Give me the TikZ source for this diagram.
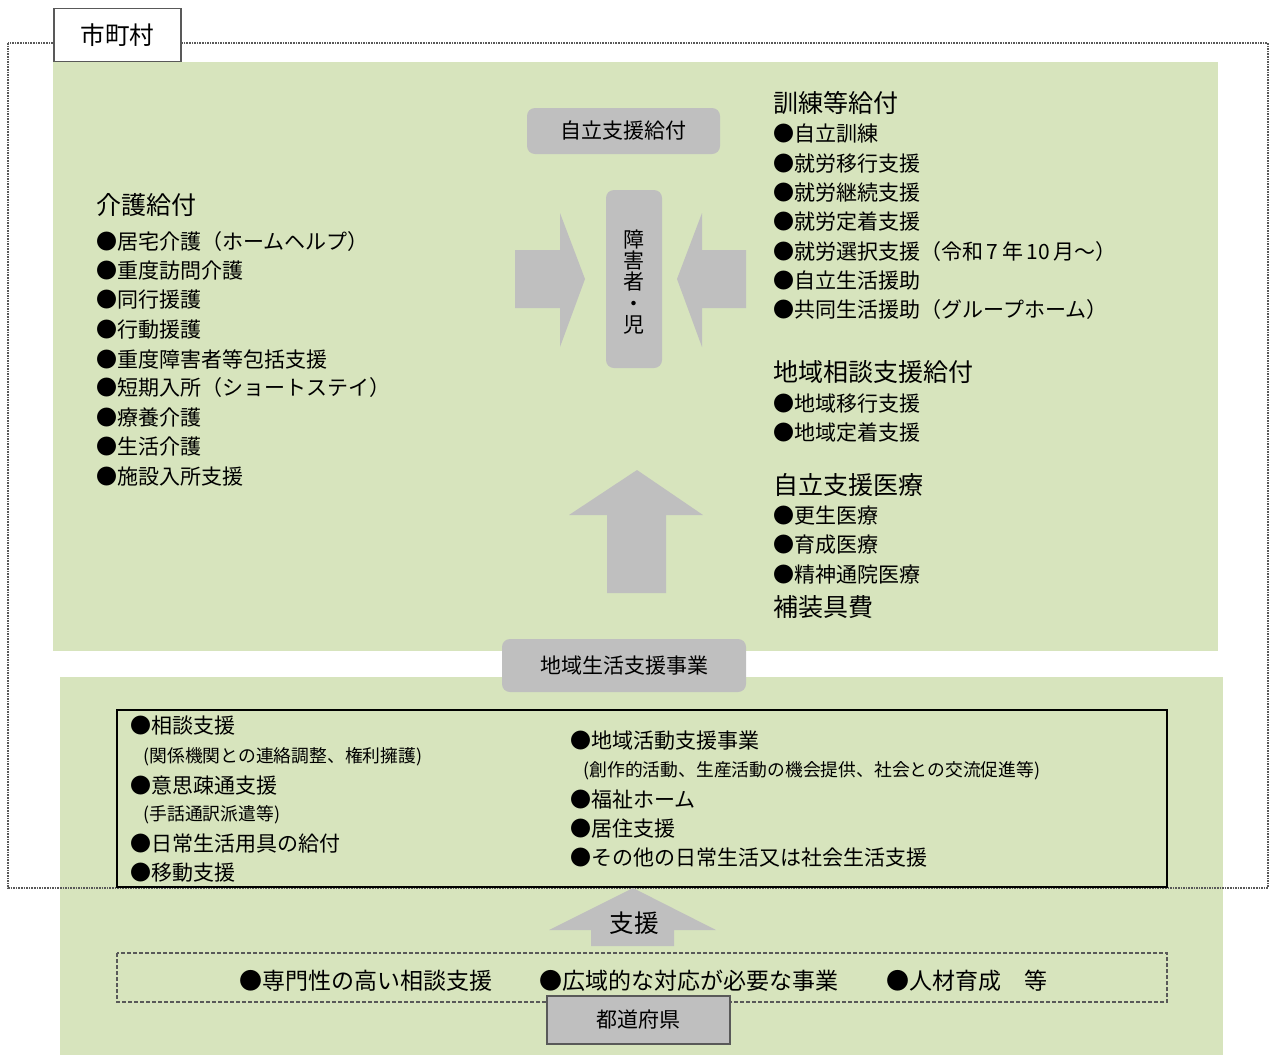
\documentclass[tikz,border=0pt]{standalone}
\usepackage{fontspec}
\setmainfont{Noto Sans CJK JP}
\definecolor{areagreen}{RGB}{215,228,189}
\definecolor{boxgray}{RGB}{191,191,191}
\definecolor{linegray}{RGB}{89,89,89}
\tikzset{
	item/.style={anchor=west, inner sep=0pt, font=\fontsize{10.5}{12}\selectfont},
	head/.style={anchor=west, inner sep=0pt, font=\fontsize{12.5}{14}\selectfont},
	note/.style={anchor=west, inner sep=0pt, font=\fontsize{8.9}{10}\selectfont},
	graybox/.style={fill=boxgray, rounded corners=4pt},
}

\begin{document}
\begin{tikzpicture}[x=0.5pt, y=-0.5pt]
		%%%%% START %%%%%
		\useasboundingbox (0, 0) rectangle (1269, 1055);
		
		% green areas
		\fill[areagreen] (53, 62) rectangle (1218, 651);
		\fill[areagreen] (60, 677) rectangle (1223, 1055);
		
		% municipal frame
		\draw[linegray, line width=0.8pt, dash pattern=on 0.8pt off 0.5pt] (8, 43) rectangle (1268, 888);
		\node[draw=linegray, fill=white, line width=0.8pt, minimum width=63.5pt, minimum height=26.5pt, inner sep=0pt, font=\fontsize{12.3}{14}\selectfont] (city) at (117.5, 35) {市町村};
		
		% centre
		\node[graybox, minimum width=96.5pt, minimum height=23pt, inner sep=0pt, font=\fontsize{10.5}{12}\selectfont] (jiritsu) at (623.5, 131) {自立支援給付};
		\path[graybox] (606, 190) rectangle (662, 368);
		\node[inner sep=0pt, align=center, font=\fontsize{10.5}{10.7}\selectfont] (person) at (634, 282) {障\\害\\者\\・\\児};
		
		\fill[boxgray] (515, 250) -- (560, 250) -- (560, 213) -- (585, 279) -- (560, 347) -- (560, 308) -- (515, 308) -- cycle;
		\fill[boxgray] (746, 250) -- (702, 250) -- (702, 213) -- (677, 279) -- (702, 347) -- (702, 308) -- (746, 308) -- cycle;
		\fill[boxgray] (607, 593) -- (607, 515) -- (569, 515) -- (637, 470) -- (703, 515) -- (666, 515) -- (666, 593) -- cycle;
		
		% kaigo kyufu
		\node[head] (kaigo) at (96, 205) {介護給付};
		\node[item] (kaigo1) at (96, 242) {●居宅介護（ホームヘルプ）};
		\node[item] (kaigo2) at (96, 271) {●重度訪問介護};
		\node[item] (kaigo3) at (96, 300) {●同行援護};
		\node[item] (kaigo4) at (96, 330) {●行動援護};
		\node[item] (kaigo5) at (96, 359) {●重度障害者等包括支援};
		\node[item] (kaigo6) at (96, 388) {●短期入所（ショートステイ）};
		\node[item] (kaigo7) at (96, 418) {●療養介護};
		\node[item] (kaigo8) at (96, 447) {●生活介護};
		\node[item] (kaigo9) at (96, 477) {●施設入所支援};
		
		% kunren kyufu
		\node[head] (kunren) at (773, 103) {訓練等給付};
		\node[item] (kunren1) at (773, 134) {●自立訓練};
		\node[item] (kunren2) at (773, 164) {●就労移行支援};
		\node[item] (kunren3) at (773, 193) {●就労継続支援};
		\node[item] (kunren4) at (773, 222) {●就労定着支援};
		\node[item] (kunren5) at (773, 252) {●就労選択支援（令和\,7\,年\,10\,月～）};
		\node[item] (kunren6) at (773, 281) {●自立生活援助};
		\node[item] (kunren7) at (773, 310) {●共同生活援助（グループホーム）};
		
		\node[head] (soudan) at (773, 372) {地域相談支援給付};
		\node[item] (soudan1) at (773, 404) {●地域移行支援};
		\node[item] (soudan2) at (773, 433) {●地域定着支援};
		
		\node[head] (iryo) at (773, 485) {自立支援医療};
		\node[item] (iryo1) at (773, 516) {●更生医療};
		\node[item] (iryo2) at (773, 545) {●育成医療};
		\node[item] (iryo3) at (773, 575) {●精神通院医療};
		\node[head] (hosougu) at (773, 607) {補装具費};
		
		% chiiki seikatsu shien
		\node[graybox, minimum width=122pt, minimum height=26.5pt, inner sep=0pt, font=\fontsize{10.5}{12}\selectfont] (chiiki) at (624, 665.5) {地域生活支援事業};
		\draw[line width=0.8pt] (117, 710) rectangle (1167, 887);
		
		\node[item] (jigyo1) at (130, 726) {●相談支援};
		\node[note] (jigyo1n) at (143, 757) {(関係機関との連絡調整、権利擁護)};
		\node[item] (jigyo2) at (130, 786) {●意思疎通支援};
		\node[note] (jigyo2n) at (143, 815) {(手話通訳派遣等)};
		\node[item] (jigyo3) at (130, 844) {●日常生活用具の給付};
		\node[item] (jigyo4) at (130, 873) {●移動支援};
		
		\node[item] (jigyo5) at (570, 741) {●地域活動支援事業};
		\node[note] (jigyo5n) at (583, 771) {(創作的活動、生産活動の機会提供、社会との交流促進等)};
		\node[item] (jigyo6) at (570, 800) {●福祉ホーム};
		\node[item] (jigyo7) at (570, 829) {●居住支援};
		\node[item] (jigyo8) at (570, 858) {●その他の日常生活又は社会生活支援};
		
		% prefecture
		\fill[boxgray] (591, 946) -- (591, 930) -- (549, 930) -- (633, 888) -- (716, 930) -- (674, 930) -- (674, 946) -- cycle;
		\node[inner sep=0pt, font=\fontsize{12.3}{14}\selectfont] (shien) at (634, 923) {支援};
		
		\draw[linegray, line width=0.6pt, dash pattern=on 2pt off 1pt] (117, 953) rectangle (1167, 1002);
		\node[inner sep=0pt, anchor=west, font=\fontsize{11.5}{13}\selectfont] (ken1) at (239, 981) {●専門性の高い相談支援};
		\node[inner sep=0pt, anchor=west, font=\fontsize{11.5}{13}\selectfont] (ken2) at (539, 981) {●広域的な対応が必要な事業};
		\node[inner sep=0pt, anchor=west, font=\fontsize{11.5}{13}\selectfont] (ken3) at (886, 981) {●人材育成　等};
		
		\node[draw=linegray, fill=boxgray, line width=0.8pt, minimum width=91.5pt, minimum height=24pt, inner sep=0pt, font=\fontsize{10.5}{12}\selectfont] (pref) at (638.5, 1020) {都道府県};
		
		%%%%% END %%%%%
\end{tikzpicture}
\end{document}
